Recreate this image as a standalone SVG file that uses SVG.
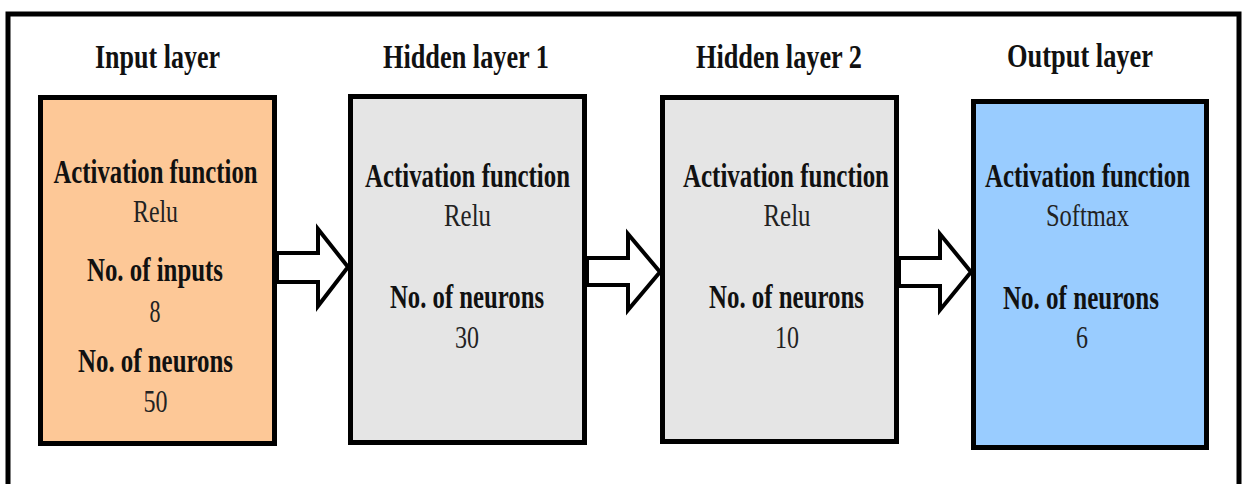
<svg xmlns="http://www.w3.org/2000/svg" width="1245" height="484" viewBox="0 0 1245 484">
  <style>
    .box { stroke: #000; stroke-width: 5; }
    .h { font-family: "Liberation Serif", "Times New Roman", serif; font-weight: bold; font-size: 33px; text-anchor: middle; fill: #111; }
    .b { font-family: "Liberation Serif", "Times New Roman", serif; font-weight: bold; font-size: 33px; text-anchor: middle; fill: #111; }
    .v { font-family: "Liberation Serif", "Times New Roman", serif; font-size: 31px; text-anchor: middle; fill: #222; }
    .arrow { fill: #fff; stroke: #000; stroke-width: 4; stroke-linejoin: miter; }
  </style>
  <rect x="0" y="0" width="1245" height="484" fill="#fff"/>
  <path d="M8 490 V14 H1239 V490" fill="none" stroke="#000" stroke-width="5"/>

  <g id="input-layer">
    <text class="h" x="157.5" y="68" textLength="125" lengthAdjust="spacingAndGlyphs">Input layer</text>
    <rect class="box" x="40.5" y="97.5" width="234" height="346" fill="#FDC897"/>
    <text class="b" x="155.5" y="183" textLength="204" lengthAdjust="spacingAndGlyphs">Activation function</text>
    <text class="v" x="155.5" y="222" textLength="45" lengthAdjust="spacingAndGlyphs">Relu</text>
    <text class="b" x="155" y="281" textLength="136" lengthAdjust="spacingAndGlyphs">No. of inputs</text>
    <text class="v" x="155" y="322" textLength="11" lengthAdjust="spacingAndGlyphs">8</text>
    <text class="b" x="155.5" y="372" textLength="155" lengthAdjust="spacingAndGlyphs">No. of neurons</text>
    <text class="v" x="155.5" y="412" textLength="24" lengthAdjust="spacingAndGlyphs">50</text>
  </g>

  <g id="hidden-layer-1">
    <text class="h" x="466" y="68" textLength="166" lengthAdjust="spacingAndGlyphs">Hidden layer 1</text>
    <rect class="box" x="350.5" y="96.5" width="234" height="346" fill="#E5E5E5"/>
    <text class="b" x="467.5" y="187" textLength="205" lengthAdjust="spacingAndGlyphs">Activation function</text>
    <text class="v" x="467.5" y="226" textLength="47" lengthAdjust="spacingAndGlyphs">Relu</text>
    <text class="b" x="467" y="308" textLength="154" lengthAdjust="spacingAndGlyphs">No. of neurons</text>
    <text class="v" x="467" y="348" textLength="24" lengthAdjust="spacingAndGlyphs">30</text>
  </g>

  <g id="hidden-layer-2">
    <text class="h" x="779" y="68" textLength="166" lengthAdjust="spacingAndGlyphs">Hidden layer 2</text>
    <rect class="box" x="662.5" y="97.5" width="234" height="344" fill="#E5E5E5"/>
    <text class="b" x="786" y="187" textLength="206" lengthAdjust="spacingAndGlyphs">Activation function</text>
    <text class="v" x="787" y="226" textLength="47" lengthAdjust="spacingAndGlyphs">Relu</text>
    <text class="b" x="786.5" y="308" textLength="155" lengthAdjust="spacingAndGlyphs">No. of neurons</text>
    <text class="v" x="787" y="348" textLength="24" lengthAdjust="spacingAndGlyphs">10</text>
  </g>

  <g id="output-layer">
    <text class="h" x="1080" y="67" textLength="146" lengthAdjust="spacingAndGlyphs">Output layer</text>
    <rect class="box" x="973.5" y="101.5" width="233" height="346" fill="#99CCFF"/>
    <text class="b" x="1087.5" y="187" textLength="205" lengthAdjust="spacingAndGlyphs">Activation function</text>
    <text class="v" x="1087.5" y="226" textLength="83" lengthAdjust="spacingAndGlyphs">Softmax</text>
    <text class="b" x="1081" y="309" textLength="156" lengthAdjust="spacingAndGlyphs">No. of neurons</text>
    <text class="v" x="1082" y="348" textLength="12" lengthAdjust="spacingAndGlyphs">6</text>
  </g>

  <g id="connectors">
    <path class="arrow" d="M277 253 H318 V229 L348 267 L318 306 V282 H277 Z"/>
    <path class="arrow" d="M587 258 H628 V234 L660 272 L628 310 V285 H587 Z"/>
    <path class="arrow" d="M899 258 H940 V234 L971 272 L940 310 V286 H899 Z"/>
  </g>
</svg>
